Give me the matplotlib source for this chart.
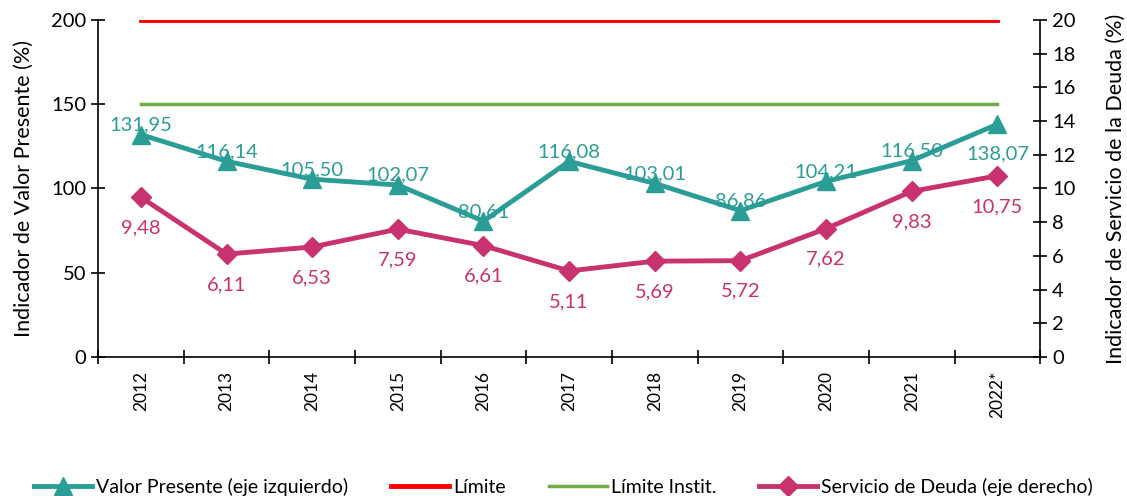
import matplotlib.pyplot as plt
import numpy as np

plt.rcParams['font.family'] = ['Lato', 'DejaVu Sans']

years = ['2012', '2013', '2014', '2015', '2016', '2017', '2018', '2019', '2020', '2021', '2022*']
valor_presente = [131.95, 116.14, 105.50, 102.07, 80.61, 116.08, 103.01, 86.86, 104.21, 116.50, 138.07]
servicio_deuda = [9.48, 6.11, 6.53, 7.59, 6.61, 5.11, 5.69, 5.72, 7.62, 9.83, 10.75]
limite = [200] * len(years)
limite_instit = [150] * len(years)

teal = '#2A9D96'
pink = '#C8326E'
red = '#FF0000'
green = '#70AD47'

def fmt(v):
    return f'{v:.2f}'.replace('.', ',')

fig = plt.figure(figsize=(11.27, 4.96), dpi=100)
ax = fig.add_axes([0.087, 0.280, 0.836, 0.680])
ax2 = ax.twinx()

x = np.arange(len(years))

l1, = ax.plot(x, valor_presente, color=teal, lw=3.5, marker='^', markersize=13, zorder=4)
l2, = ax.plot(x, limite, color=red, lw=3.5, zorder=3)
l3, = ax.plot(x, limite_instit, color=green, lw=2.5, zorder=3)
l4, = ax2.plot(x, servicio_deuda, color=pink, lw=3.5, marker='D', markersize=10, zorder=4)

# etiquetas de datos
for i, v in enumerate(valor_presente):
    dy = -21 if i == len(years) - 1 else 7
    ax.annotate(fmt(v), (i, v), xytext=(0, dy), textcoords='offset points',
                ha='center', va='center', color=teal, fontsize=14.5)
for i, v in enumerate(servicio_deuda):
    ax2.annotate(fmt(v), (i, v), xytext=(0, -22), textcoords='offset points',
                 ha='center', va='center', color=pink, fontsize=14.5)

ax.set_xlim(-0.5, len(years) - 0.5)
ax.set_ylim(0, 200)
ax2.set_ylim(0, 20)
ax.set_yticks([0, 50, 100, 150, 200])
ax2.set_yticks(range(0, 21, 2))

# ticks entre categorias, etiquetas centradas
ax.set_xticks(np.arange(len(years) + 1) - 0.5)
ax.set_xticklabels([])
ax.set_xticks(x, minor=True)
ax.set_xticklabels(years, minor=True, rotation=90, fontsize=12.5)
ax.tick_params(axis='x', which='minor', length=0, pad=10)
ax.tick_params(axis='x', which='major', direction='inout', length=10, width=1.2)
ax.tick_params(axis='y', direction='inout', length=10, width=1.2, labelsize=14.5)
ax2.tick_params(axis='y', direction='inout', length=10, width=1.2, labelsize=14.5)

for a in (ax, ax2):
    a.spines['top'].set_visible(False)
    a.spines['left'].set_linewidth(1.2)
    a.spines['right'].set_linewidth(1.2)
    a.spines['bottom'].set_linewidth(1.2)
ax.spines['right'].set_visible(False)
ax2.spines['left'].set_visible(False)
ax2.spines['bottom'].set_visible(False)

ax.set_ylabel('Indicador de Valor Presente (%)', fontsize=15.5, labelpad=12)
ax2.set_ylabel('Indicador de Servicio de la Deuda (%)', fontsize=15.5, labelpad=22)

fig.legend([l1, l2, l3, l4],
           ['Valor Presente (eje izquierdo)', 'Límite', 'Límite Instit.', 'Servicio de Deuda (eje derecho)'],
           loc='lower center', ncol=4, frameon=False, fontsize=14,
           bbox_to_anchor=(0.5, -0.035), handlelength=3.0, handletextpad=0.2, columnspacing=2.2)

fig.savefig('out.png', dpi=100)
